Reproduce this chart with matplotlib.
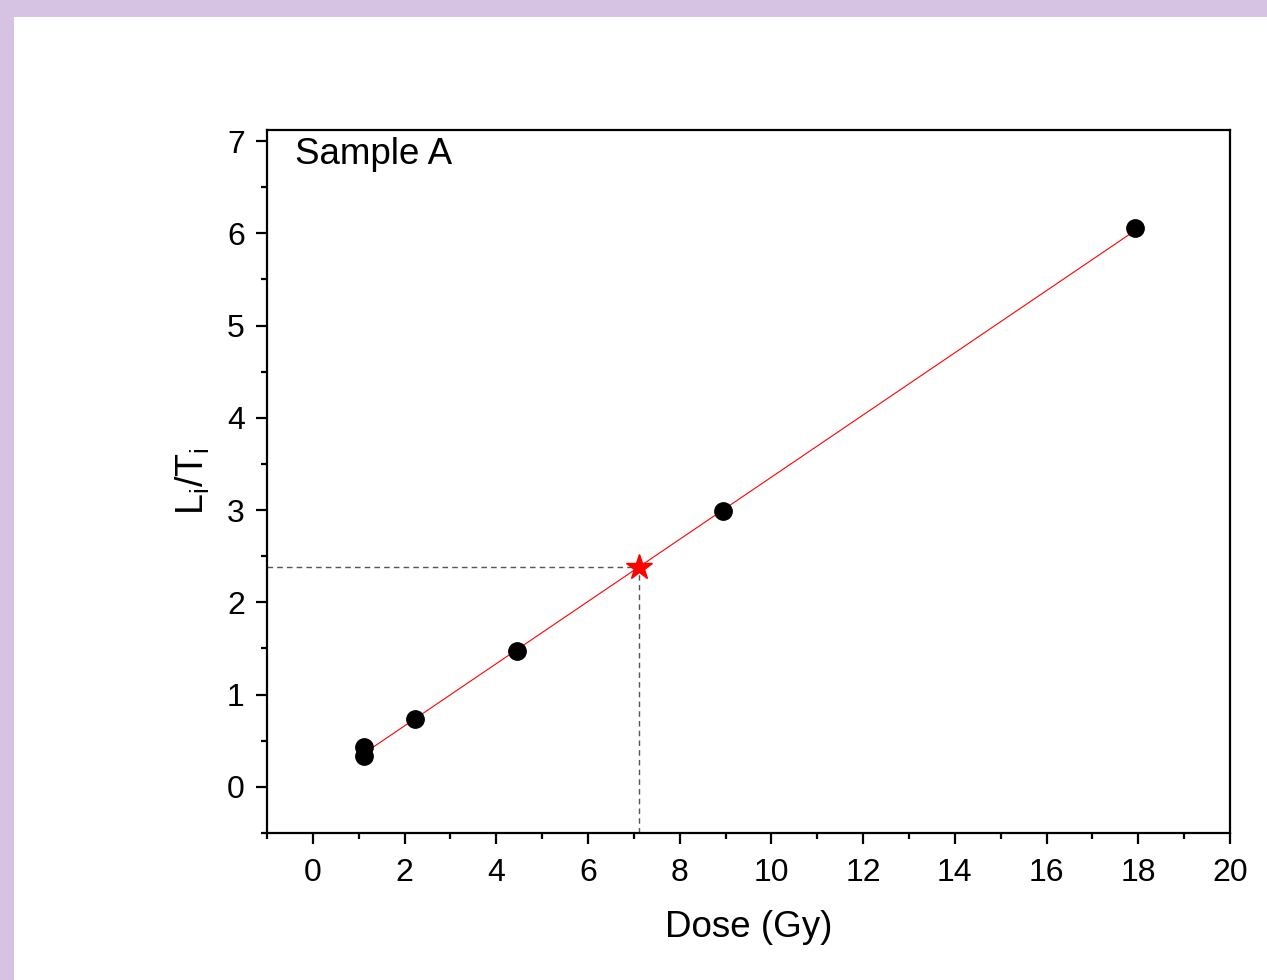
import matplotlib
matplotlib.use("Agg")
import matplotlib.pyplot as plt
from matplotlib.patches import Rectangle
from matplotlib.ticker import MultipleLocator

plt.rcParams['font.family'] = ['Liberation Sans', 'DejaVu Sans']
plt.rcParams['mathtext.fontset'] = 'custom'
plt.rcParams['mathtext.rm'] = 'Liberation Sans'

# Data
dose = [1.12, 1.12, 2.22, 4.45, 8.94, 17.93]
ratio = [0.437, 0.33, 0.737, 1.47, 2.99, 6.06]
fit_x = [1.12, 17.93]
fit_y = [0.365, 6.03]
de_x = 7.117
de_y = 2.38
xlim = (-1, 20)
ylim = (-0.5, 7.12)
xticks = [0, 2, 4, 6, 8, 10, 12, 14, 16, 18, 20]
yticks = [0, 1, 2, 3, 4, 5, 6, 7]

W, H = 1267, 980
fig = plt.figure(figsize=(W / 100, H / 100), dpi=100)
fig.patch.set_facecolor('#D6C3E4')
fig.patches.append(Rectangle((14 / W, 0), 1 - 14 / W, 1 - 17 / H,
                             transform=fig.transFigure, facecolor='white',
                             edgecolor='none', zorder=-10))

ax = fig.add_axes([267 / W, 1 - 833 / H, (1230 - 267) / W, (833 - 130) / H])
ax.set_facecolor('none')
ax.set_xlim(*xlim)
ax.set_ylim(*ylim)

ax.plot(fit_x, fit_y, color='red', lw=0.8, zorder=3)
ax.plot(dose, ratio, 'o', color='black', ms=12.5, zorder=4)
ax.plot([xlim[0], de_x], [de_y, de_y], ls=(0, (4, 3)), color='#555555', lw=1.0, zorder=2)
ax.plot([de_x, de_x], [ylim[0], de_y], ls=(0, (4, 3)), color='#555555', lw=1.0, zorder=2)
ax.plot([de_x], [de_y], '*', color='red', ms=19, zorder=5)

ax.set_xticks(xticks)
ax.set_yticks(yticks)
ax.xaxis.set_minor_locator(MultipleLocator(1))
ax.yaxis.set_minor_locator(MultipleLocator(0.5))
ax.tick_params(which='major', direction='out', length=8, width=1.6, labelsize=23, pad=8)
ax.tick_params(axis='x', which='major', pad=10)
ax.tick_params(which='minor', direction='out', length=4, width=1.6)
for s in ax.spines.values():
    s.set_linewidth(1.6)

ax.set_xlabel('Dose (Gy)', fontsize=26.5, labelpad=16)
ax.set_ylabel(r'L$_\mathregular{i}$/T$_\mathregular{i}$', fontsize=27, labelpad=11)
ax.text(0.029, 0.99, 'Sample A', transform=ax.transAxes, fontsize=26.5,
        ha='left', va='top')

fig.savefig('out.png', dpi=100)
